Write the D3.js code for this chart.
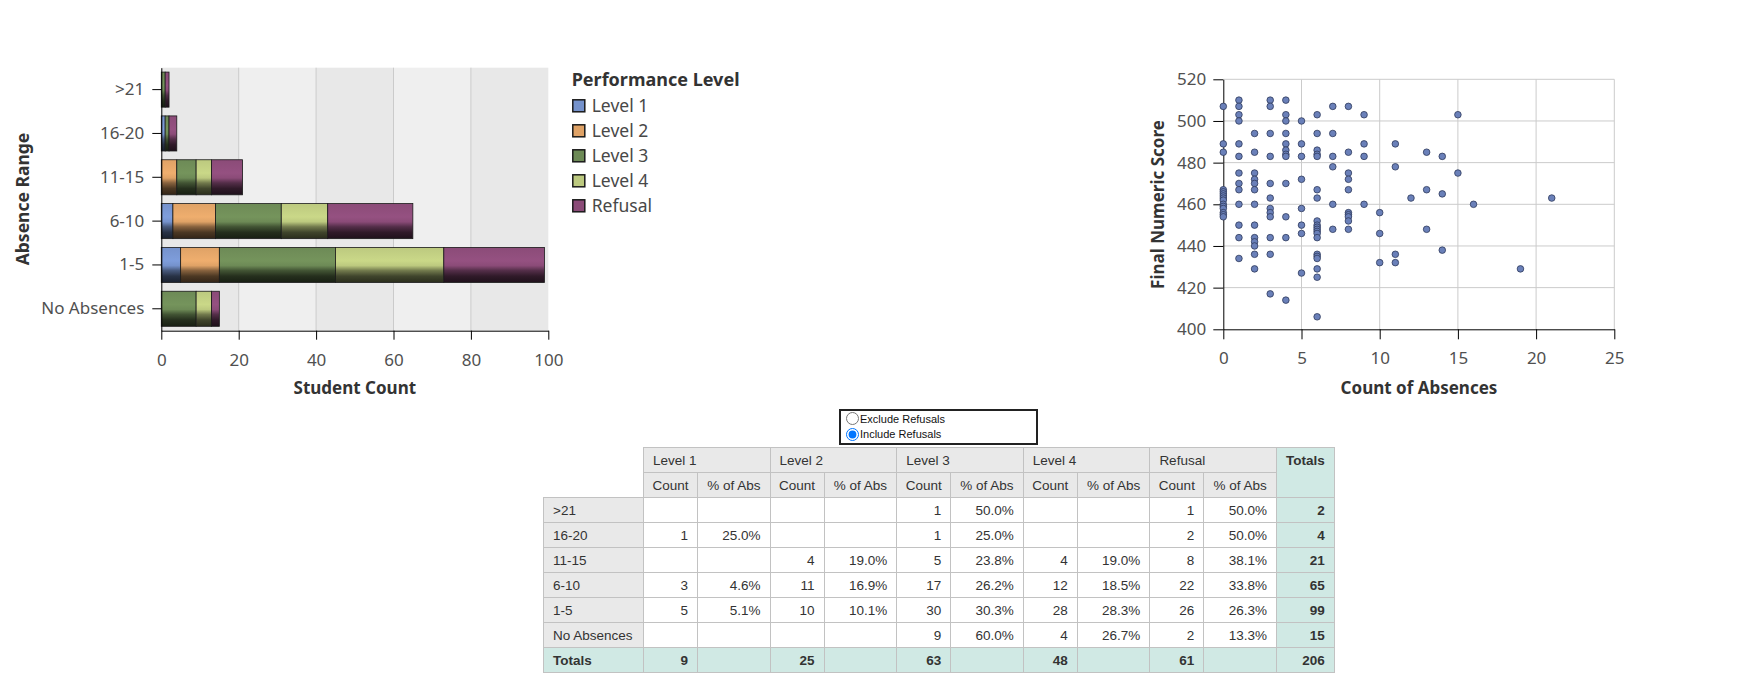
<!DOCTYPE html>
<html>
<head>
<meta charset="utf-8">
<script src="https://cdn.jsdelivr.net/npm/d3@7"></script>
<style>
  body { margin: 0; background: #fff; font-family: "Noto Sans", sans-serif; }
  #charts { position: absolute; left: 0; top: 0; }
  .tick text { fill: #505050; font-family: "Noto Sans", sans-serif; font-size: 17px; }
  .axis-title { font-weight: bold; font-size: 17px; fill: #333; }
  #toggle {
    position: absolute; left: 839px; top: 409px; width: 199px; height: 36px;
    box-sizing: border-box; border: 2px solid #222;
    font: 11px "Liberation Sans", Arial, sans-serif; color: #111;
  }
  #toggle div { height: 15.5px; display: flex; align-items: center; }
  #toggle input { margin: 0 1px 0 5px; width: 13px; height: 13px; }
  table.crosstab {
    position: absolute; left: 543px; top: 447px;
    border-collapse: collapse; table-layout: fixed;
    font: 13.5px "Liberation Sans", Arial, sans-serif; color: #333;
  }
  .crosstab th, .crosstab td {
    border: 1px solid #c2c2c2; height: 24px; padding: 0 9px;
    font-weight: normal; white-space: nowrap;
  }
  .crosstab tr { height: 25px; }
  .crosstab .corner { border: none; background: #fff; }
  .crosstab .lvl { background: #e9e9e9; text-align: left; }
  .crosstab .sub { background: #e9e9e9; text-align: center; padding: 0; }
  .crosstab .rowhead { background: #e9e9e9; text-align: left; }
  .crosstab .num { text-align: right; background: #fff; }
  .crosstab .tot { background: #d0e9e4; font-weight: bold; text-align: right; }
  .crosstab .tothead { background: #d0e9e4; font-weight: bold; text-align: center; vertical-align: top; line-height: 25px; }
  .crosstab .totrow { background: #d0e9e4; font-weight: bold; }
</style>
</head>
<body>
<svg id="charts" width="1750" height="400"></svg>
<div id="toggle">
  <div><input type="radio" name="ref">Exclude Refusals</div>
  <div><input type="radio" name="ref" checked>Include Refusals</div>
</div>
<script>
// ---- data ----
const rangeLabels = [">21", "16-20", "11-15", "6-10", "1-5", "No Absences"];
const levelNames = ["Level 1", "Level 2", "Level 3", "Level 4", "Refusal"];
const level1Counts = [0, 1, 0, 3, 5, 0];
const level2Counts = [0, 0, 4, 11, 10, 0];
const level3Counts = [1, 1, 5, 17, 30, 9];
const level4Counts = [0, 0, 4, 12, 28, 4];
const refusalCounts = [1, 2, 8, 22, 26, 2];
const levelColors = ["#7592cc", "#dfa266", "#6d8a56", "#bcc97f", "#8b4b78"];
const countTicks = [0, 20, 40, 60, 80, 100];

// scatter: absence count and the final scores seen at that count
const absenceValues = [0, 1, 2, 3, 4, 5, 6, 7, 8, 9, 10, 11, 12, 13, 14, 15, 16, 19, 21];
const scoresByAbsence = [
  [507, 489, 485, 467, 466, 465, 464, 463, 462, 460, 459, 458, 456, 455, 454],
  [510, 507, 503, 500, 489, 483, 475, 470, 467, 460, 450, 444, 434],
  [494, 485, 475, 472, 470, 467, 460, 450, 444, 442, 440, 436, 429],
  [510, 507, 494, 483, 470, 463, 458, 456, 454, 444, 436, 417],
  [510, 503, 500, 494, 489, 486, 484, 483, 470, 454, 444, 414],
  [500, 489, 483, 472, 458, 450, 446, 427],
  [503, 494, 486, 484, 483, 467, 463, 452, 450, 449, 448, 447, 446, 444, 436, 435, 434, 429, 425, 406],
  [507, 494, 483, 478, 460, 448],
  [507, 485, 475, 472, 467, 456, 455, 454, 452, 448],
  [503, 489, 483, 460],
  [456, 446, 432],
  [489, 478, 436, 432],
  [463],
  [485, 467, 448],
  [483, 465, 438],
  [503, 475],
  [460],
  [429],
  [463]
];
const scoreTicks = [400, 420, 440, 460, 480, 500, 520];
const absenceTicks = [0, 5, 10, 15, 20, 25];

const levelCounts = [level1Counts, level2Counts, level3Counts, level4Counts, refusalCounts];
const rows = rangeLabels.map((r, i) => {
  const row = { range: r };
  levelNames.forEach((k, j) => row[k] = levelCounts[j][i]);
  row.total = d3.sum(levelCounts, (c) => c[i]);
  return row;
});

const svg = d3.select("#charts");

// gradients for the bars
const defs = svg.append("defs");
levelColors.forEach((c, i) => {
  const col = d3.color(c);
  const g = defs.append("linearGradient")
    .attr("id", `grad${i}`)
    .attr("x1", 0).attr("y1", 0).attr("x2", 0).attr("y2", 1);
  [[0, col], [0.38, col.brighter(0.2)], [0.52, col], [0.66, col.darker(1.4)],
   [0.82, col.darker(3)], [1, col.darker(4.2)]].forEach(([o, cc]) => {
    g.append("stop").attr("offset", o).attr("stop-color", cc.formatHex());
  });
});

// ---- stacked bar chart ----
const xBar = d3.scaleLinear().domain([0, 100]).range([161.3, 548.3]);
const yBar = d3.scaleBand().domain(rangeLabels).range([67.7, 330.7])
  .paddingInner(0.2).paddingOuter(0.1);

const barChart = svg.append("g");

// alternating stripes behind the bars
barChart.selectAll(".stripe")
  .data(d3.pairs(countTicks))
  .join("rect")
    .attr("x", (d) => xBar(d[0]))
    .attr("width", (d) => xBar(d[1]) - xBar(d[0]))
    .attr("y", 67.7)
    .attr("height", 330.7 - 67.7)
    .attr("fill", (d, i) => i % 2 ? "#efefef" : "#e8e8e8");

barChart.selectAll(".grid")
  .data(countTicks.slice(1, -1))
  .join("line")
    .attr("x1", (d) => xBar(d)).attr("x2", (d) => xBar(d))
    .attr("y1", 67.7).attr("y2", 330.7)
    .attr("stroke", "#cbcbcb");

const stacked = d3.stack().keys(levelNames)(rows);

barChart.selectAll(".series")
  .data(stacked)
  .join("g")
    .attr("fill", (d, i) => `url(#grad${i})`)
  .selectAll("rect")
  .data((d) => d.filter((s) => s[1] > s[0]))
  .join("rect")
    .attr("x", (d) => xBar(d[0]))
    .attr("width", (d) => xBar(d[1]) - xBar(d[0]))
    .attr("y", (d) => yBar(d.data.range))
    .attr("height", yBar.bandwidth())
    .attr("stroke", "#1a1a1a")
    .attr("stroke-width", 0.8);

barChart.append("g")
  .attr("transform", "translate(0,330.7)")
  .call(d3.axisBottom(xBar).tickValues(countTicks).tickSize(9).tickSizeOuter(0).tickPadding(14));

barChart.append("g")
  .attr("transform", "translate(161.3,0)")
  .call(d3.axisLeft(yBar).tickSize(9).tickSizeOuter(0).tickPadding(8));

barChart.append("text")
  .attr("class", "axis-title")
  .attr("x", 354.8).attr("y", 394)
  .attr("text-anchor", "middle")
  .text("Student Count");

barChart.append("text")
  .attr("class", "axis-title")
  .attr("transform", "translate(28.5,199) rotate(-90)")
  .attr("text-anchor", "middle")
  .style("font-size", "17.5px")
  .text("Absence Range");

// legend
const legend = svg.append("g");
legend.append("text")
  .attr("x", 571.7).attr("y", 86)
  .attr("font-weight", "bold").attr("font-size", 18).attr("fill", "#333")
  .text("Performance Level");

const legendItems = legend.selectAll(".item")
  .data(levelNames)
  .join("g")
    .attr("transform", (d, i) => `translate(0,${i * 25})`);

legendItems.append("rect")
  .attr("x", 572.8).attr("y", 99.8)
  .attr("width", 12).attr("height", 12)
  .attr("fill", (d, i) => levelColors[i])
  .attr("stroke", "#1a1a1a").attr("stroke-width", 1.5);

legendItems.append("text")
  .attr("x", 591.7).attr("y", 112.3)
  .attr("font-size", 17.5).attr("fill", "#484848")
  .text((d) => d);

// ---- scatter plot ----
const xSc = d3.scaleLinear().domain([0, 25]).range([1223.3, 1614.3]);
const ySc = d3.scaleLinear().domain([400, 520]).range([329.3, 79.3]);

const scatter = svg.append("g");

scatter.selectAll(".hgrid")
  .data(scoreTicks.slice(1))
  .join("line")
    .attr("x1", xSc(0)).attr("x2", xSc(25))
    .attr("y1", (d) => ySc(d)).attr("y2", (d) => ySc(d))
    .attr("stroke", "#cbcbcb");

scatter.selectAll(".vgrid")
  .data(absenceTicks.slice(1))
  .join("line")
    .attr("x1", (d) => xSc(d)).attr("x2", (d) => xSc(d))
    .attr("y1", ySc(400)).attr("y2", ySc(520))
    .attr("stroke", "#cbcbcb");

scatter.append("g")
  .attr("transform", `translate(0,${ySc(400)})`)
  .call(d3.axisBottom(xSc).tickValues(absenceTicks).tickSize(10).tickSizeOuter(0).tickPadding(12.5));

scatter.append("g")
  .attr("transform", `translate(${xSc(0)},0)`)
  .call(d3.axisLeft(ySc).tickValues(scoreTicks).tickSize(10).tickSizeOuter(0).tickPadding(7));

const points = absenceValues.flatMap((a, i) => scoresByAbsence[i].map((s) => ({ a, s })));

scatter.selectAll(".dot")
  .data(points)
  .join("circle")
    .attr("cx", (d) => xSc(d.a))
    .attr("cy", (d) => ySc(d.s))
    .attr("r", 3.3)
    .attr("fill", "#6a80b9")
    .attr("stroke", "#2e3a5c")
    .attr("stroke-width", 0.8);

scatter.append("text")
  .attr("class", "axis-title")
  .attr("x", 1419).attr("y", 394)
  .attr("text-anchor", "middle")
  .text("Count of Absences");

scatter.append("text")
  .attr("class", "axis-title")
  .attr("transform", "translate(1164,204.5) rotate(-90)")
  .attr("text-anchor", "middle")
  .text("Final Numeric Score");

svg.selectAll(".domain, .tick line").attr("stroke", "#000");

// ---- crosstab table ----
const table = d3.select("body").append("table").attr("class", "crosstab");
const colgroup = table.append("colgroup");
colgroup.append("col").style("width", "100px");
levelNames.forEach(() => {
  colgroup.append("col").style("width", "54px");
  colgroup.append("col").style("width", "72.6px");
});
colgroup.append("col").style("width", "56.6px");

const thead = table.append("thead");
const h1 = thead.append("tr");
h1.append("th").attr("class", "corner").attr("rowspan", 2);
levelNames.forEach((l) => h1.append("th").attr("class", "lvl").attr("colspan", 2).text(l));
h1.append("th").attr("class", "tothead").attr("rowspan", 2).text("Totals");
const h2 = thead.append("tr");
levelNames.forEach(() => {
  h2.append("th").attr("class", "sub").text("Count");
  h2.append("th").attr("class", "sub").text("% of Abs");
});

const tbody = table.append("tbody");
rows.forEach((r) => {
  const tr = tbody.append("tr");
  tr.append("td").attr("class", "rowhead").text(r.range);
  levelNames.forEach((l) => {
    const v = r[l];
    tr.append("td").attr("class", "num").text(v ? v : "");
    tr.append("td").attr("class", "num").text(v ? (v / r.total * 100).toFixed(1) + "%" : "");
  });
  tr.append("td").attr("class", "tot").text(r.total);
});

const totTr = tbody.append("tr");
totTr.append("td").attr("class", "totrow").text("Totals");
levelNames.forEach((l) => {
  totTr.append("td").attr("class", "tot").text(d3.sum(rows, (r) => r[l]));
  totTr.append("td").attr("class", "tot").text("");
});
totTr.append("td").attr("class", "tot").text(d3.sum(rows, (r) => r.total));
</script>
</body>
</html>
